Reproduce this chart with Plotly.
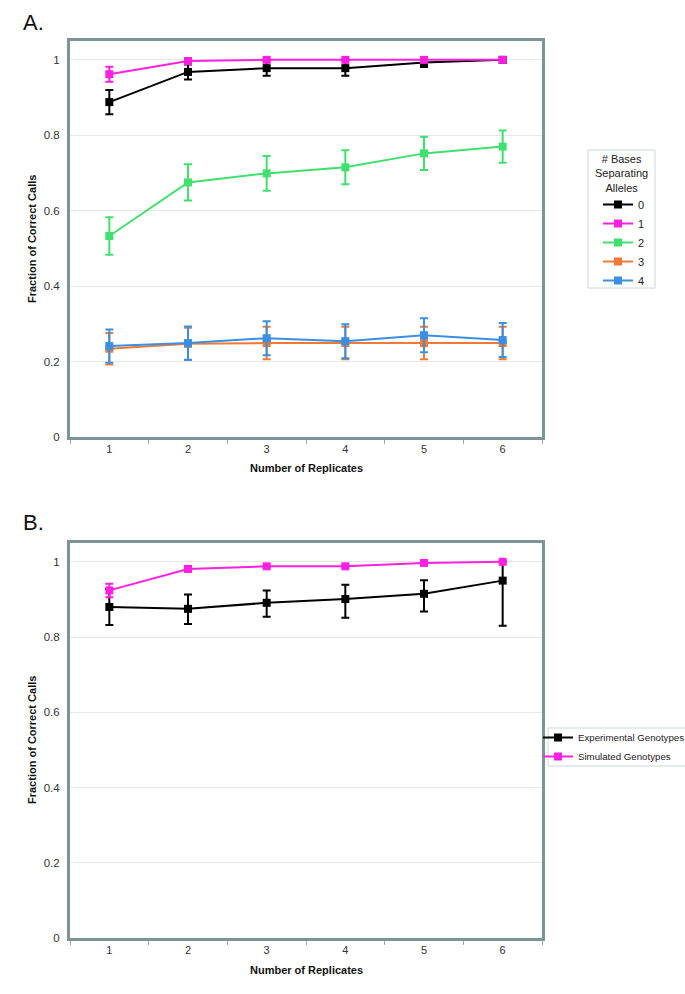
import plotly.graph_objects as go

# ---------------- data ----------------
replicates = ["1", "2", "3", "4", "5", "6"]

# Panel A: # bases separating alleles
a_names = ["0", "1", "2", "3", "4"]
a0_y = [0.888, 0.968, 0.978, 0.978, 0.993, 1.000]
a0_err = [0.032, 0.020, 0.020, 0.020, 0.012, 0.0]
a1_y = [0.962, 0.997, 1.000, 1.000, 1.000, 1.000]
a1_err = [0.020, 0.004, 0.002, 0.002, 0.002, 0.0]
a2_y = [0.533, 0.675, 0.699, 0.715, 0.752, 0.770]
a2_err = [0.050, 0.048, 0.046, 0.045, 0.044, 0.043]
a3_y = [0.234, 0.247, 0.249, 0.249, 0.249, 0.249]
a3_err = [0.042, 0.043, 0.043, 0.043, 0.043, 0.043]
a4_y = [0.241, 0.249, 0.262, 0.254, 0.270, 0.257]
a4_err = [0.044, 0.044, 0.045, 0.045, 0.045, 0.045]

# Panel B
b_names = ["Experimental Genotypes", "Simulated Genotypes"]
b_exp_y = [0.880, 0.875, 0.891, 0.901, 0.915, 0.950]
b_exp_err_plus = [0.048, 0.038, 0.033, 0.038, 0.036, 0.050]
b_exp_err_minus = [0.048, 0.040, 0.037, 0.050, 0.047, 0.120]
b_sim_y = [0.924, 0.981, 0.988, 0.988, 0.997, 1.000]
b_sim_err = [0.018, 0.003, 0.002, 0.002, 0.001, 0.0]

y_ticks = [0, 0.2, 0.4, 0.6, 0.8, 1]
y_ticktext = ["0", "0.2", "0.4", "0.6", "0.8", "1"]

legend_a_title = "# Bases<br>Separating<br>Alleles"

# ---------------- styles ----------------
FONT = "Liberation Sans, Arial, sans-serif"
a_colors = ["#000000", "#ff1fe0", "#3fe06e", "#f07a35", "#3b8fe3"]
b_colors = ["#000000", "#ff1fe0"]
FRAME = "#7d9497"
LEGEND_BORDER = "#cdd6d8"
W, H = 685, 994

fig = go.Figure()

a_series = [(a0_y, a0_err), (a1_y, a1_err), (a2_y, a2_err), (a3_y, a3_err), (a4_y, a4_err)]
for name, (ys, es), col in zip(a_names, a_series, a_colors):
    fig.add_trace(go.Scatter(
        x=replicates, y=ys, name=name, mode="lines+markers",
        line=dict(color=col, width=2),
        marker=dict(symbol="square", size=8, color=col),
        error_y=dict(type="data", array=es, visible=True, color=col, thickness=2, width=4),
        xaxis="x", yaxis="y", legend="legend",
    ))

fig.add_trace(go.Scatter(
    x=replicates, y=b_exp_y, name=b_names[0], mode="lines+markers",
    line=dict(color=b_colors[0], width=2),
    marker=dict(symbol="square", size=8, color=b_colors[0]),
    error_y=dict(type="data", symmetric=False, array=b_exp_err_plus, arrayminus=b_exp_err_minus,
                 visible=True, color=b_colors[0], thickness=2, width=4),
    xaxis="x2", yaxis="y2", legend="legend2",
))
fig.add_trace(go.Scatter(
    x=replicates, y=b_sim_y, name=b_names[1], mode="lines+markers",
    line=dict(color=b_colors[1], width=2),
    marker=dict(symbol="square", size=8, color=b_colors[1]),
    error_y=dict(type="data", array=b_sim_err, visible=True, color=b_colors[1], thickness=2, width=4),
    xaxis="x2", yaxis="y2", legend="legend2",
))


def py(px):
    return 1 - px / H


def pxx(px):
    return px / W


xdom = [pxx(70), pxx(542)]
a_dom = [py(437), py(41)]
b_dom = [py(938), py(543)]

xaxis_common = dict(
    type="category", tickson="boundaries", ticks="outside", ticklen=4, tickwidth=1,
    tickcolor="#9aa9ab", showline=True, linecolor=FRAME, linewidth=3, mirror=True,
    showgrid=False, zeroline=False, tickfont=dict(family=FONT, size=11, color="#333333"),
    range=[-0.5, 5.5], fixedrange=True,
)
yaxis_common = dict(
    range=[0, 1.05], tickvals=y_ticks, ticktext=y_ticktext, showline=True, linecolor=FRAME,
    linewidth=3, mirror=True, showgrid=True, gridcolor="#e8e8e8", gridwidth=1, zeroline=False,
    ticks="", tickfont=dict(family=FONT, size=11.5, color="#333333"), ticklabelstandoff=5,
)

fig.update_layout(
    width=W, height=H, margin=dict(l=0, r=0, t=0, b=0, autoexpand=False),
    paper_bgcolor="white", plot_bgcolor="white",
    font=dict(family=FONT, size=11, color="#222222"),
    xaxis=dict(domain=xdom, anchor="y", **xaxis_common),
    yaxis=dict(domain=a_dom, anchor="x", **yaxis_common),
    xaxis2=dict(domain=xdom, anchor="y2", **xaxis_common),
    yaxis2=dict(domain=b_dom, anchor="x2", **yaxis_common),
    legend=dict(
        x=pxx(598), y=py(190), xanchor="left", yanchor="top",
        borderwidth=0, bgcolor="rgba(0,0,0,0)",
        font=dict(family=FONT, size=11, color="#222222"),
        itemwidth=30, tracegroupgap=0,
    ),
    legend2=dict(
        x=pxx(538), y=py(723), xanchor="left", yanchor="top",
        borderwidth=0, bgcolor="rgba(0,0,0,0)",
        font=dict(family=FONT, size=9.7, color="#222222"),
        itemwidth=30, tracegroupgap=0,
    ),
    showlegend=True,
)

# boxes around the legends
fig.add_shape(type="rect", xref="paper", yref="paper",
              x0=pxx(588), x1=pxx(655), y0=py(288), y1=py(150),
              line=dict(color=LEGEND_BORDER, width=1), fillcolor="rgba(0,0,0,0)", layer="below")
fig.add_shape(type="rect", xref="paper", yref="paper",
              x0=pxx(548), x1=pxx(700), y0=py(766), y1=py(728),
              line=dict(color=LEGEND_BORDER, width=1), fillcolor="rgba(0,0,0,0)", layer="below")

ann_font_title = dict(family=FONT, size=11, color="#111111")
annotations = [
    dict(text=legend_a_title, x=pxx(621.5), y=py(151), xref="paper", yref="paper",
         xanchor="center", yanchor="top", align="center", showarrow=False,
         font=dict(family=FONT, size=11, color="#222222")),
    dict(text="A.", x=pxx(21), y=py(22), xref="paper", yref="paper", xanchor="left", yanchor="middle",
         showarrow=False, font=dict(family=FONT, size=22, color="#111111")),
    dict(text="B.", x=pxx(21), y=py(522), xref="paper", yref="paper", xanchor="left", yanchor="middle",
         showarrow=False, font=dict(family=FONT, size=22, color="#111111")),
    dict(text="<b>Fraction of Correct Calls</b>", x=pxx(32), y=py(239), xref="paper", yref="paper",
         textangle=-90, showarrow=False, font=ann_font_title, xanchor="center", yanchor="middle"),
    dict(text="<b>Fraction of Correct Calls</b>", x=pxx(32), y=py(740), xref="paper", yref="paper",
         textangle=-90, showarrow=False, font=ann_font_title, xanchor="center", yanchor="middle"),
    dict(text="<b>Number of Replicates</b>", x=pxx(306), y=py(468), xref="paper", yref="paper",
         showarrow=False, font=ann_font_title, xanchor="center", yanchor="middle"),
    dict(text="<b>Number of Replicates</b>", x=pxx(306), y=py(970), xref="paper", yref="paper",
         showarrow=False, font=ann_font_title, xanchor="center", yanchor="middle"),
]
fig.update_layout(annotations=annotations)

fig.write_html(
    "out.html",
    config={"displayModeBar": False},
    post_script="document.body.style.margin='0';document.body.style.overflow='hidden';",
)
